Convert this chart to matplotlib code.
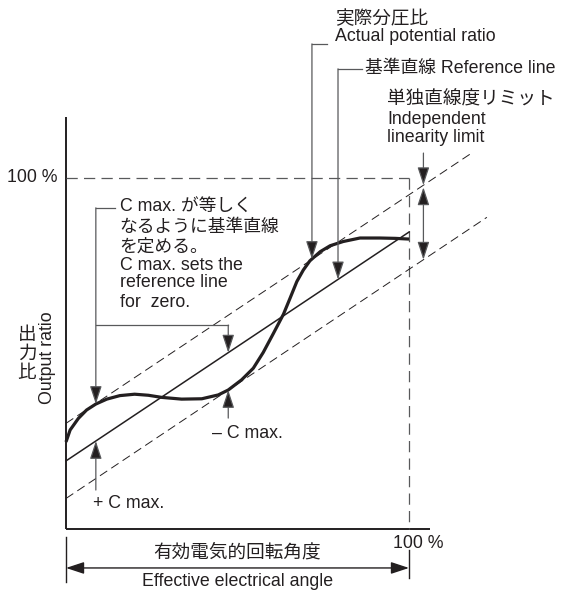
import matplotlib
matplotlib.use("Agg")
import matplotlib.pyplot as plt
import numpy as np

# ------------------------------------------------------------
# Data (percent of full scale)
# ------------------------------------------------------------

# actual potential ratio curve
curve_x = [0.0, 1.2, 3.6, 6.0, 8.7, 11.9, 15.7, 20.0, 24.0, 27.9, 33.7,
           39.6, 44.4, 47.3, 51.2, 54.6, 57.5, 60.4, 63.4, 65.3, 67.3,
           69.2, 71.1, 74.1, 77.0, 80.8, 85.7, 91.5, 96.0, 100.0]
curve_y = [24.8, 28.2, 31.5, 33.9, 35.6, 37.0, 38.0, 38.4, 38.1, 37.5, 37.0,
           37.1, 38.2, 39.6, 42.5, 45.8, 50.3, 55.6, 61.2, 65.7, 70.5,
           73.8, 76.4, 79.0, 80.7, 81.9, 82.9, 82.9, 82.8, 82.6]

# reference line and independent linearity limits (end points)
ref_x = [0.0, 100.0]
ref_y = [19.4, 84.6]
upper_x = [0.0, 117.8]
upper_y = [30.1, 106.8]
lower_x = [0.0, 122.7]
lower_y = [8.7, 88.8]

# where the C max. arrows sit
cmax_plus_x = 8.7
cmax_minus_x = 47.3

# ------------------------------------------------------------
# Figure: one axes over the whole canvas, units = percent
# ------------------------------------------------------------

plt.rcParams['font.family'] = ['Liberation Sans', 'Noto Sans CJK JP', 'DejaVu Sans']

INK = '#231f20'
GREY = '#58595b'
FS = 12.8
FS_JP = 13.4

fig = plt.figure(figsize=(5.62, 5.90), dpi=100)
ax = fig.add_axes([0, 0, 1, 1])
ax.set_xlim(-19.24, 144.6)
ax.set_ylim(-17.38, 150.71)
ax.axis('off')


def line_at(xs, ys, x):
    return float(np.interp(x, xs, ys))


def arrow(x0, y0, x1, y1, style='-|>', color=GREY, lw=0.9):
    ax.annotate('', xy=(x1, y1), xytext=(x0, y0),
                arrowprops=dict(arrowstyle=style + ',head_length=1.0,head_width=0.33',
                                color=color, lw=lw, shrinkA=0, shrinkB=0,
                                mutation_scale=11, fc=INK, ec=color))


# axes
ax.plot([0, 0], [0, 117.4], color=INK, lw=1.4, solid_capstyle='butt')
ax.plot([0, 106.1], [0, 0], color=INK, lw=1.4, solid_capstyle='butt')

# 100 % guides
dash = (0, (9, 5))
ax.plot([0, 100], [100, 100], color=GREY, lw=0.9, ls=dash)
ax.plot([100, 100], [100, 0], color=GREY, lw=0.9, ls=dash)

# limits, reference line, actual curve
ax.plot(upper_x, upper_y, color=INK, lw=0.7, ls=dash)
ax.plot(lower_x, lower_y, color=INK, lw=0.7, ls=dash)
ax.plot(ref_x, ref_y, color=INK, lw=1.1)
ax.plot(curve_x, curve_y, color=INK, lw=2.3, solid_capstyle='butt',
        solid_joinstyle='round')

# ------------------------------------------------------------
# Leaders and arrows
# ------------------------------------------------------------

# actual potential ratio
ax.plot([76.1, 71.7], [138.2, 138.2], color=GREY, lw=0.9)
arrow(71.7, 138.2, 71.7, line_at(curve_x, curve_y, 71.7))

# reference line
ax.plot([86.2, 79.3], [131.1, 131.1], color=GREY, lw=0.9)
arrow(79.3, 131.1, 79.3, line_at(ref_x, ref_y, 79.3))

# independent linearity limit
lim_x = 104.2
arrow(lim_x, 107.1, lim_x, line_at(upper_x, upper_y, lim_x))
arrow(lim_x, line_at(upper_x, upper_y, lim_x) - 0.6,
      lim_x, line_at(lower_x, lower_y, lim_x), style='<|-|>')

# C max. leader
ax.plot([14.3, cmax_plus_x], [91.5, 91.5], color=GREY, lw=0.9)
arrow(cmax_plus_x, 91.5, cmax_plus_x, line_at(curve_x, curve_y, cmax_plus_x))
ax.plot([cmax_plus_x, cmax_minus_x], [58.1, 58.1], color=GREY, lw=0.9)
arrow(cmax_minus_x, 58.1, cmax_minus_x, line_at(ref_x, ref_y, cmax_minus_x))

# + C max. / - C max.
arrow(cmax_plus_x, 11.1, cmax_plus_x, line_at(ref_x, ref_y, cmax_plus_x))
arrow(cmax_minus_x, 31.6, cmax_minus_x, line_at(curve_x, curve_y, cmax_minus_x))

# effective electrical angle dimension
ax.plot([0, 0], [-2.3, -15.1], color=INK, lw=1.0)
ax.plot([100, 100], [-6.0, -14.0], color=INK, lw=1.0)
arrow(0, -11.1, 100, -11.1, style='<|-|>', color=INK, lw=1.0)

# ------------------------------------------------------------
# Text
# ------------------------------------------------------------

def txt(x, y, s, ha='left', **kw):
    ax.text(x, y, s, ha=ha, va='center', fontsize=kw.pop('fontsize', FS),
            color=INK, **kw)


txt(-2.6, 100, '100 %', ha='right')
txt(95.3, -4.0, '100 %')

txt(78.3, 145.3, '実際分圧比', fontsize=FS_JP)
txt(78.3, 140.2, 'Actual potential ratio')
txt(87.2, 131.1, '基準直線 Reference line')
txt(93.6, 122.2, '単独直線度リミット', fontsize=FS_JP)
txt(93.6, 116.8, 'Independent')
txt(93.6, 111.4, 'linearity limit')

cmax_lines = ['C max. が等しく', 'なるように基準直線', 'を定める。',
              'C max. sets the', 'reference line', 'for  zero.']
cmax_rows = [91.5, 85.8, 80.3, 75.2, 70.1, 64.4]
for s, y in zip(cmax_lines, cmax_rows):
    txt(15.6, y, s)

txt(42.6, 27.1, '– C max.')
txt(8.0, 7.4, '+ C max.')

txt(49.9, -6.8, '有効電気的回転角度', ha='center', fontsize=FS_JP)
txt(49.9, -15.1, 'Effective electrical angle', ha='center')

# y label: Japanese stacked upright, English rotated
for ch, y in zip('出力比', [55.0, 49.7, 44.4]):
    txt(-11.4, y, ch, ha='center', fontsize=FS_JP)
txt(-5.5, 48.7, 'Output ratio', ha='center', rotation=90)

fig.savefig('out.png', dpi=100)
